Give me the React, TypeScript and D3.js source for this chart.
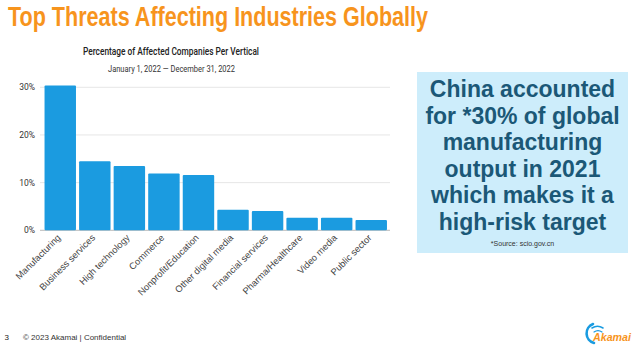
import React from "react";
import * as d3 from "d3";

const categories = [
  "Manufacturing",
  "Business services",
  "High technology",
  "Commerce",
  "Nonprofit/Education",
  "Other digital media",
  "Financial services",
  "Pharma/Healthcare",
  "Video media",
  "Public sector",
];
const percentages = [30.4, 14.5, 13.5, 11.9, 11.6, 4.3, 4.05, 2.65, 2.65, 2.15];
const yTicks = [0, 10, 20, 30];
const calloutLines = [
  "China accounted",
  "for *30% of global",
  "manufacturing",
  "output in 2021",
  "which makes it a",
  "high-risk target",
];

const W = 640;
const H = 351;
const ARIAL = "'Liberation Sans', Arial, sans-serif";

export default function App() {
  const x = d3
    .scaleBand<string>()
    .domain(categories)
    .range([43.5, 388])
    .paddingInner(0.09)
    .paddingOuter(0.03);
  const y = d3.scaleLinear().domain([0, 30]).range([230.3, 87.3]);

  return (
    <svg
      width={W}
      height={H}
      style={{ position: "absolute", left: 0, top: 0, background: "#fff" }}
      fontFamily="Roboto, 'Liberation Sans', sans-serif"
    >
      <text
        x={8}
        y={26}
        fill="#f7941d"
        fontFamily={ARIAL}
        fontWeight="bold"
        fontSize={28}
        textLength={420}
        lengthAdjust="spacingAndGlyphs"
      >
        Top Threats Affecting Industries Globally
      </text>

      {/* chart titles */}
      <text
        x={83}
        y={55}
        fontSize={10.5}
        fill="#222"
        fontWeight={500}
        textLength={176}
        lengthAdjust="spacingAndGlyphs"
      >
        Percentage of Affected Companies Per Vertical
      </text>
      <text x={108} y={72} fontSize={9.5} fill="#333" textLength={127} lengthAdjust="spacingAndGlyphs">
        January 1, 2022 — December 31, 2022
      </text>

      {/* gridlines and y ticks */}
      {yTicks.map((t) => (
        <g key={t}>
          <line x1={40} x2={390} y1={y(t)} y2={y(t)} stroke={t === 0 ? "#bbb" : "#e6e6e6"} strokeWidth={1} />
          <text x={35} y={y(t) + 3} textAnchor="end" fontSize={8.5} fill="#333">
            {t}%
          </text>
        </g>
      ))}

      {/* bars */}
      {categories.map((c, i) => (
        <rect
          key={c}
          x={x(c)}
          y={y(percentages[i])}
          width={x.bandwidth()}
          height={y(0) - y(percentages[i])}
          fill="#1b9be0"
          rx={1}
        />
      ))}

      {/* x labels */}
      {categories.map((c) => {
        const cx = (x(c) as number) + x.bandwidth() / 2 + 1;
        return (
          <text
            key={c}
            transform={`translate(${cx},${y(0) + 8}) rotate(-45)`}
            textAnchor="end"
            fontSize={9.3}
            fill="#444"
            fontFamily={ARIAL}
          >
            {c}
          </text>
        );
      })}

      {/* callout box */}
      <rect x={417} y={72} width={211} height={181} fill="#cdedfb" />
      {calloutLines.map((l, i) => (
        <text
          key={l}
          x={522.5}
          y={97 + i * 26.6}
          textAnchor="middle"
          fill="#1b5877"
          fontWeight="bold"
          fontSize={23}
          fontFamily={ARIAL}
        >
          {l}
        </text>
      ))}
      <text x={522.5} y={246} textAnchor="middle" fontSize={7} fill="#333" fontFamily={ARIAL}>
        *Source: scio.gov.cn
      </text>

      {/* footer */}
      <text x={4.5} y={340} fontSize={8} fill="#222" fontFamily={ARIAL}>
        3
      </text>
      <text x={23} y={340} fontSize={8} fill="#333" fontFamily={ARIAL}>
        © 2023 Akamai | Confidential
      </text>

      {/* logo */}
      <g transform="translate(592,334)" fill="none" stroke="#1a9be0" strokeLinecap="round">
        <path d="M 2 9 A 10 10 0 0 1 1 -10" strokeWidth={2.6} />
        <path d="M 0 -6 A 10 10 0 0 1 11 -6" strokeWidth={1.5} />
        <path d="M 2 -2 A 7 7 0 0 1 10 -2" strokeWidth={1.2} />
      </g>
      <text
        x={593}
        y={341}
        fontSize={11}
        fontWeight="bold"
        fontStyle="italic"
        fill="#f7941d"
        fontFamily={ARIAL}
        textLength={38}
        lengthAdjust="spacingAndGlyphs"
      >
        Akamai
      </text>
    </svg>
  );
}
